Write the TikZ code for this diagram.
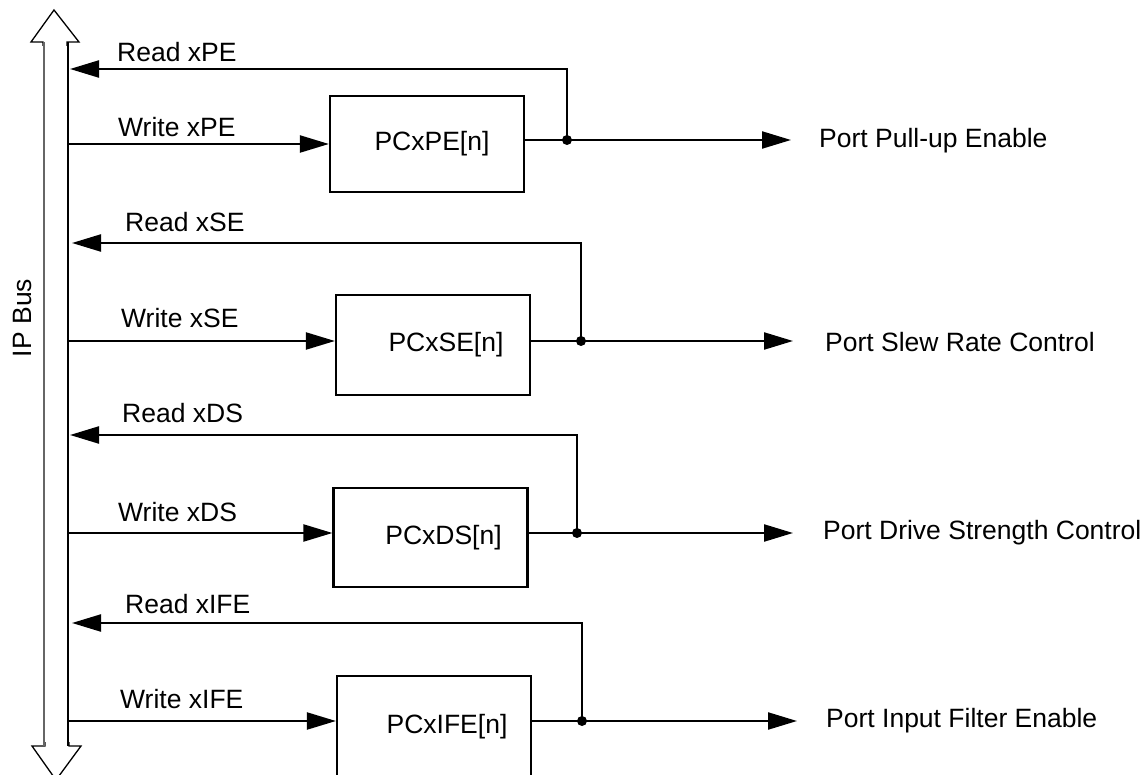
\documentclass[tikz,border=0pt]{standalone}
\usepackage{fontspec}
\setmainfont{Liberation Sans}
\usetikzlibrary{arrows.meta}
\begin{document}
\begin{tikzpicture}[x=1pt,y=-1pt,
  sig/.style={line width=2.2pt},
  arr/.style={sig,-{Triangle[length=29pt,width=17pt]}},
  regbox/.style={draw,line width=2.2pt,minimum width=194pt,inner sep=0pt,font=\fontsize{26.5}{30}\selectfont},
  lbl/.style={anchor=west,inner sep=0pt,font=\fontsize{26.5}{30}\selectfont},
  dot/.style={circle,fill,inner sep=0pt,minimum size=10pt}
]
\useasboundingbox (0,0) rectangle (1144,775);
\clip (0,0) rectangle (1144,775);
% IP bus (hollow double arrow)
\draw[line width=1.3pt,line join=miter] (43,46) -- (43,42) -- (31,42) -- (54,10) -- (79,42) -- (67,42) -- (67,46);
\draw[line width=1.3pt,line join=miter] (45,742) -- (45,746) -- (32,746) -- (56,780) -- (81,746) -- (69,746) -- (69,742);
\draw[line width=1.1pt,black!60] (44,42) -- (44,746);
\draw[line width=2.2pt] (68,42) -- (68,746);
\node[rotate=90,inner sep=0pt,font=\fontsize{26.5}{30}\selectfont] (bus) at (23,318) {IP Bus};
% registers
\node[regbox,minimum height=96pt] (b1) at (427,144) {\hspace*{10pt}PCxPE[n]};
\node[regbox,minimum height=100pt] (b2) at (433,345) {\hspace*{26pt}PCxSE[n]};
\node[regbox,minimum height=99pt] (b3) at (430.5,537.5) {\hspace*{26pt}PCxDS[n]};
\node[regbox,minimum height=101pt] (b4) at (434,726.5) {\hspace*{26pt}PCxIFE[n]};
% bus-side coordinates
\coordinate (r1) at (70,69);  \coordinate (w1) at (67,144);
\coordinate (r2) at (72,243); \coordinate (w2) at (67,341);
\coordinate (r3) at (70,435); \coordinate (w3) at (67,533);
\coordinate (r4) at (72,623); \coordinate (w4) at (67,721);
% junctions
\coordinate (j1) at (567,140);
\coordinate (j2) at (581,341);
\coordinate (j3) at (577,533);
\coordinate (j4) at (582,721);
% output tips
\coordinate (t1) at (791,140);
\coordinate (t2) at (793,341);
\coordinate (t3) at (793,533);
\coordinate (t4) at (797,721);
% connectors
\foreach \i in {1,2,3,4}{
  \draw[arr] (w\i) -- (w\i -| b\i.west);
  \draw[sig] (j\i -| b\i.east) -- (j\i);
  \draw[arr] (j\i) -- (t\i);
  \draw[arr] (j\i) |- (r\i);
  \node[dot] (d\i) at (j\i) {};
}
% signal labels
\node[lbl] (lr1) at (117,52) {Read xPE};
\node[lbl] (lw1) at (118,127) {Write xPE};
\node[lbl] (lr2) at (125,222) {Read xSE};
\node[lbl] (lw2) at (121,318) {Write xSE};
\node[lbl] (lr3) at (122,413) {Read xDS};
\node[lbl] (lw3) at (118,512) {Write xDS};
\node[lbl] (lr4) at (125,604) {Read xIFE};
\node[lbl] (lw4) at (120,699) {Write xIFE};
% output labels
\node[lbl] (o1) at (819,141) {Port Pull-up Enable};
\node[lbl] (o2) at (825,342) {Port Slew Rate Control};
\node[lbl] (o3) at (823,533) {Port Drive Strength Control};
\node[lbl] (o4) at (826,721) {Port Input Filter Enable};
\end{tikzpicture}
\end{document}
